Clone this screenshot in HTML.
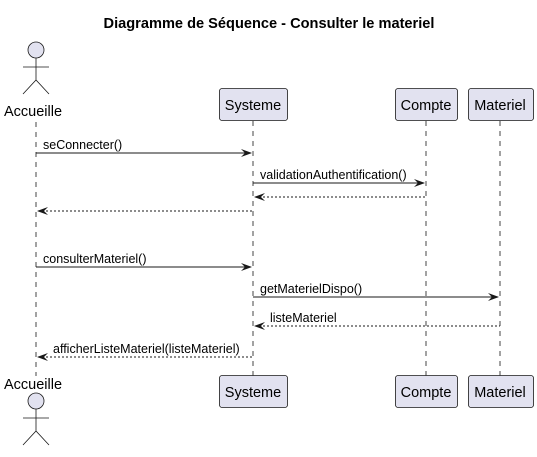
<!DOCTYPE html>
<html><head><style>body{margin:0;background:#fff}svg{display:block}</style></head><body>
<svg width="537" height="457" xmlns="http://www.w3.org/2000/svg" font-family="Liberation Sans, sans-serif">
<text x="269" y="28" text-anchor="middle" font-size="14.6" font-weight="bold">Diagramme de Séquence - Consulter le materiel</text>
<g stroke="#181818" stroke-width="0.8" stroke-dasharray="5,5">
<line x1="36" y1="122" x2="36" y2="376"/>
<line x1="253" y1="121" x2="253" y2="376"/>
<line x1="426" y1="121" x2="426" y2="376"/>
<line x1="500" y1="121" x2="500" y2="376"/>
</g>
<g fill="#E2E2F0" stroke="#181818" stroke-width="0.8">
<rect x="219.5" y="88.5" width="68" height="32" rx="2.5"/>
<rect x="395.5" y="88.5" width="62" height="32" rx="2.5"/>
<rect x="468.5" y="88.5" width="65" height="32" rx="2.5"/>
<rect x="219.5" y="375.5" width="68" height="32" rx="2.5"/>
<rect x="395.5" y="375.5" width="62" height="32" rx="2.5"/>
<rect x="468.5" y="375.5" width="65" height="32" rx="2.5"/>
<circle cx="36" cy="50" r="8"/>
<circle cx="36" cy="401" r="8"/>
</g>
<g stroke="#181818" stroke-width="0.8" fill="none">
<path d="M36 58V80M23 67H49M23 94L36 80L49 94"/>
<path d="M36 409V431M23 418H49M23 445L36 431L49 445"/>
</g>
<g font-size="14.5" fill="#000" text-anchor="middle">
<text x="33" y="116">Accueille</text>
<text x="33" y="389">Accueille</text>
<text x="253" y="110">Systeme</text>
<text x="426" y="110">Compte</text>
<text x="500" y="110">Materiel</text>
<text x="253" y="397">Systeme</text>
<text x="426" y="397">Compte</text>
<text x="500" y="397">Materiel</text>
</g>
<g stroke="#181818" stroke-width="1" fill="none">
<line x1="36" y1="153" x2="251" y2="153"/>
<line x1="253" y1="183" x2="424" y2="183"/>
<line x1="255" y1="197" x2="426" y2="197" stroke-dasharray="2,2"/>
<line x1="38" y1="211" x2="253" y2="211" stroke-dasharray="2,2"/>
<line x1="36" y1="267" x2="251" y2="267"/>
<line x1="253" y1="297" x2="498" y2="297"/>
<line x1="255" y1="326" x2="500" y2="326" stroke-dasharray="2,2"/>
<line x1="38" y1="357" x2="253" y2="357" stroke-dasharray="2,2"/>
</g>
<g fill="#181818">
<path d="M252 153l-11-4 4 4-4 4z"/>
<path d="M425 183l-11-4 4 4-4 4z"/>
<path d="M254 197l11-4-4 4 4 4z"/>
<path d="M37 211l11-4-4 4 4 4z"/>
<path d="M252 267l-11-4 4 4-4 4z"/>
<path d="M499 297l-11-4 4 4-4 4z"/>
<path d="M254 326l11-4-4 4 4 4z"/>
<path d="M37 357l11-4-4 4 4 4z"/>
</g>
<g font-size="12.5" fill="#000">
<text x="43" y="149">seConnecter()</text>
<text x="260" y="179">validationAuthentification()</text>
<text x="43" y="263">consulterMateriel()</text>
<text x="260" y="293">getMaterielDispo()</text>
<text x="270" y="322">listeMateriel</text>
<text x="53" y="353">afficherListeMateriel(listeMateriel)</text>
</g>
</svg>
</body></html>
